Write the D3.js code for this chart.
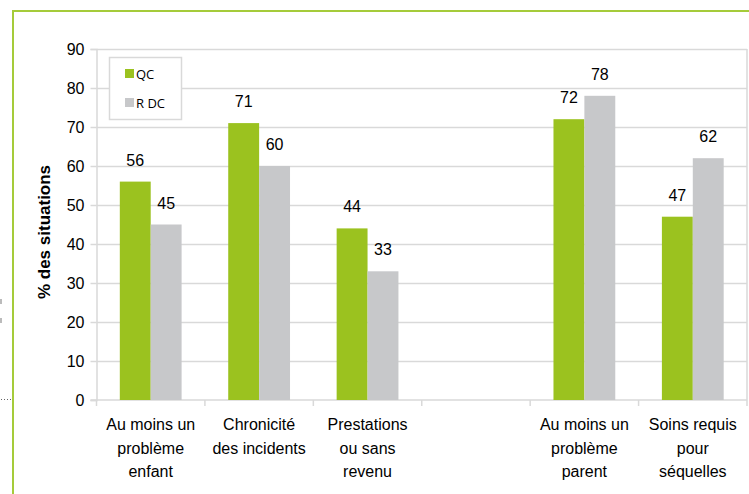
<!DOCTYPE html>
<html>
<head>
<meta charset="utf-8">
<script src="https://cdn.jsdelivr.net/npm/d3@7"></script>
<style>
  body { margin: 0; background: #fff; }
  svg { display: block; }
</style>
</head>
<body>
<div id="chart"></div>
<script>
// data
let categories = [
  ['Au moins un', 'problème', 'enfant'],
  ['Chronicité', 'des incidents'],
  ['Prestations', 'ou sans', 'revenu'],
  [],
  ['Au moins un', 'problème', 'parent'],
  ['Soins requis', 'pour', 'séquelles']
]
let series = ['QC', 'R DC']
let qcValues = [56, 71, 44, null, 72, 47]
let rdcValues = [45, 60, 33, null, 78, 62]
let yTicks = [0, 10, 20, 30, 40, 50, 60, 70, 80, 90]

let width = 749,
  height = 494,
  plot = { left: 96.5, right: 747, top: 49, bottom: 400 },
  colors = ['#9bc21f', '#c7c8ca'],
  gridColor = '#d9d9d9'

let svg = d3.select('#chart').append('svg')
  .attr('width', width)
  .attr('height', height)

// outer frame
svg.append('rect')
  .attr('x', 13)
  .attr('y', 11)
  .attr('width', width + 10)
  .attr('height', height + 10)
  .attr('fill', 'none')
  .attr('stroke', '#a5cb3a')
  .attr('stroke-width', 2)

// small leftovers at the left edge
svg.append('rect').attr('x', 0).attr('y', 299).attr('width', 2).attr('height', 5).attr('fill', '#bbb')
svg.append('rect').attr('x', 0).attr('y', 318).attr('width', 2).attr('height', 5).attr('fill', '#bbb')
svg.append('line')
  .attr('x1', 1).attr('x2', 12).attr('y1', 399.5).attr('y2', 399.5)
  .attr('stroke', '#666').attr('stroke-dasharray', '1,2')

// scales
let x0 = d3.scaleBand()
  .domain(d3.range(categories.length))
  .range([plot.left, plot.right])
  .paddingInner(0.43)
  .paddingOuter(0.215)

let x1 = d3.scaleBand()
  .domain(series)
  .range([0, x0.bandwidth()])

let y = d3.scaleLinear()
  .domain([0, 90])
  .range([plot.bottom, plot.top])

// gridlines
svg.append('g').selectAll('line')
  .data(yTicks.filter(d => d > 0))
  .enter().append('line')
  .attr('x1', plot.left)
  .attr('x2', plot.right)
  .attr('y1', d => Math.round(y(d)) + 0.5)
  .attr('y2', d => Math.round(y(d)) + 0.5)
  .attr('stroke', gridColor)
  .attr('stroke-width', 1.5)

// right edge of plot
svg.append('line')
  .attr('x1', plot.right).attr('x2', plot.right)
  .attr('y1', y(90)).attr('y2', plot.bottom)
  .attr('stroke', gridColor).attr('stroke-width', 1.5)

// y axis
let yAxis = d3.axisLeft(y)
  .tickValues(yTicks)
  .tickSize(6)
  .tickPadding(6)

let yg = svg.append('g')
  .attr('transform', 'translate(' + plot.left + ',0)')
  .call(yAxis)
yg.select('.domain').attr('stroke', gridColor).attr('stroke-width', 1.5)
yg.selectAll('.tick line').attr('stroke', gridColor).attr('stroke-width', 1.5)
yg.selectAll('.tick text')
  .attr('font-family', 'Liberation Sans, Arial, sans-serif')
  .attr('font-size', '16px')
  .attr('fill', '#000')

// y title
svg.append('text')
  .attr('transform', 'translate(50,232) rotate(-90)')
  .attr('text-anchor', 'middle')
  .attr('font-family', 'Liberation Sans, Arial, sans-serif')
  .attr('font-weight', 'bold')
  .attr('font-size', '17px')
  .text('% des situations')

// x axis line and ticks at band boundaries
let step = x0.step()
let boundaries = d3.range(categories.length + 1).map(i => plot.left + i * step)
svg.append('line')
  .attr('x1', plot.left - 6).attr('x2', plot.right)
  .attr('y1', plot.bottom).attr('y2', plot.bottom)
  .attr('stroke', gridColor).attr('stroke-width', 1.5)
svg.append('g').selectAll('line')
  .data(boundaries)
  .enter().append('line')
  .attr('x1', d => d).attr('x2', d => d)
  .attr('y1', plot.bottom).attr('y2', plot.bottom + 6)
  .attr('stroke', gridColor).attr('stroke-width', 1.5)

// bars
let rows = categories.map((c, i) => ({ i: i, values: [qcValues[i], rdcValues[i]] }))

let groups = svg.append('g').selectAll('g')
  .data(rows)
  .enter().append('g')
  .attr('transform', d => 'translate(' + x0(d.i) + ',0)')

let items = groups.selectAll('g')
  .data(d => d.values.map((v, k) => ({ key: series[k], value: v, k: k })).filter(e => e.value != null))
  .enter().append('g')

items.append('rect')
  .attr('x', d => x1(d.key))
  .attr('y', d => y(d.value))
  .attr('width', x1.bandwidth())
  .attr('height', d => y(0) - y(d.value))
  .attr('fill', d => colors[d.k])

items.append('text')
  .attr('x', d => x1(d.key) + x1.bandwidth() / 2)
  .attr('y', d => y(d.value) - 16)
  .attr('text-anchor', 'middle')
  .attr('font-family', 'Liberation Sans, Arial, sans-serif')
  .attr('font-size', '16px')
  .text(d => d.value)

// category labels
let labels = svg.append('g').selectAll('text')
  .data(categories)
  .enter().append('text')
  .attr('x', (d, i) => x0(i) + x0.bandwidth() / 2)
  .attr('y', 430)
  .attr('text-anchor', 'middle')
  .attr('font-family', 'Liberation Sans, Arial, sans-serif')
  .attr('font-size', '16px')

labels.selectAll('tspan')
  .data(d => d)
  .enter().append('tspan')
  .attr('x', function () { return d3.select(this.parentNode).attr('x') })
  .attr('dy', (d, i) => i === 0 ? 0 : 23.5)
  .text(d => d)

// legend
let legend = svg.append('g')
legend.append('rect')
  .attr('x', 109.5).attr('y', 57.5)
  .attr('width', 72).attr('height', 62)
  .attr('fill', '#fff')
  .attr('stroke', gridColor)
  .attr('stroke-width', 1.5)

let legendItems = legend.selectAll('g')
  .data(series)
  .enter().append('g')
  .attr('transform', (d, i) => 'translate(125,' + (69 + i * 29) + ')')

legendItems.append('rect')
  .attr('width', 9).attr('height', 9)
  .attr('fill', (d, i) => colors[i])

legendItems.append('text')
  .attr('x', 11)
  .attr('y', 9.5)
  .attr('font-family', 'Open Sans, sans-serif')
  .attr('font-size', '13px')
  .text(d => d)
</script>
</body>
</html>
